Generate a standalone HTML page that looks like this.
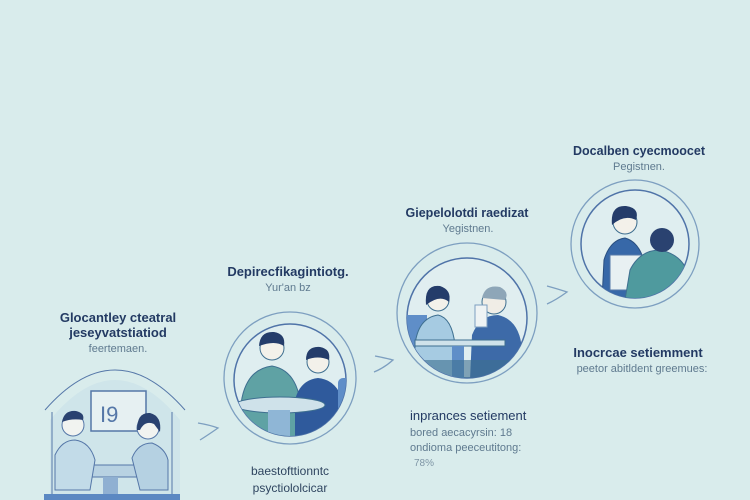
<!DOCTYPE html>
<html><head><meta charset="utf-8"><style>
html,body{margin:0;padding:0;background:#d9ecec;}
svg{display:block;font-family:"Liberation Sans",sans-serif;}
</style></head><body>
<svg width="750" height="500" viewBox="0 0 750 500" xmlns="http://www.w3.org/2000/svg">
<rect width="750" height="500" fill="#d9ecec"/>
<!-- Texts -->
<g text-anchor="middle">
<text x="118" y="322" font-size="13" font-weight="bold" fill="#233a63">Glocantley cteatral</text>
<text x="118" y="337" font-size="13" font-weight="bold" fill="#233a63">jeseyvatstiatiod</text>
<text x="118" y="352" font-size="11" fill="#5f7a8f">feertemaen.</text>
<text x="288" y="276" font-size="13" font-weight="bold" fill="#233a63">Depirecfikagintiotg.</text>
<text x="288" y="291" font-size="11" fill="#5f7a8f">Yur'an bz</text>
<text x="290" y="475" font-size="12" fill="#2f4560">baestofttionntc</text>
<text x="290" y="492" font-size="12" fill="#2f4560">psyctiololcicar</text>
<text x="467" y="217" font-size="12.5" font-weight="bold" fill="#233a63">Giepelolotdi raedizat</text>
<text x="468" y="232" font-size="11" fill="#5f7a8f">Yegistnen.</text>
<text x="639" y="155" font-size="12.5" font-weight="bold" fill="#233a63">Docalben cyecmoocet</text>
<text x="639" y="170" font-size="11" fill="#5f7a8f">Pegistnen.</text>
<text x="638" y="357" font-size="13" font-weight="bold" fill="#233a63">Inocrcae setiemment</text>
<text x="642" y="372" font-size="11" fill="#5f7a8f">peetor abitldent greemues:</text>
</g>
<g text-anchor="start">
<text x="410" y="420" font-size="13" fill="#233a63">inprances setiement</text>
<text x="410" y="436" font-size="11" fill="#5f7a8f">bored aecacyrsin: 18</text>
<text x="410" y="451" font-size="11" fill="#5f7a8f">ondioma peeceutitong:</text>
<text x="414" y="466" font-size="10" fill="#7f96a6">78%</text>
</g>
<!-- connectors -->
<g fill="none" stroke="#7d9fc0" stroke-width="1.3">
<path d="M198 423 Q210 425 218 428 Q208 435 200 440"/>
<path d="M375 356 Q386 358 393 360 Q384 368 374 372"/>
<path d="M547 286 Q558 289 567 292 Q556 300 547 304"/>
</g>
<!-- Panel 1 -->
<g>
<path d="M50 500 L50 420 Q115 340 180 420 L180 500" fill="#cfe5ea" stroke="none"/>
<path d="M45 410 Q115 330 185 410" fill="none" stroke="#5577a8" stroke-width="1"/>
<line x1="52" y1="412" x2="52" y2="500" stroke="#5577a8"/>
<line x1="172" y1="412" x2="172" y2="500" stroke="#5577a8"/>
<rect x="91" y="391" width="55" height="40" fill="#e6f0f2" stroke="#5577a8" stroke-width="1.5"/>
<text x="100" y="422" font-size="22" fill="#5577a8">I9</text>
<rect x="78" y="465" width="70" height="12" fill="#b8d2e2" stroke="#5577a8"/>
<rect x="103" y="477" width="15" height="18" fill="#8fb0d2"/>
<path d="M55 490 L55 455 Q62 440 75 440 Q90 442 95 460 L90 490 Z" fill="#c2dbe8" stroke="#5577a8"/>
<circle cx="73" cy="425" r="11" fill="#f1f3f0" stroke="#5577a8"/>
<path d="M62 422 Q64 410 76 411 Q85 413 83 420 Q72 418 62 422Z" fill="#2a4270"/>
<path d="M140 490 L132 458 Q138 443 152 443 Q165 448 168 460 L168 490 Z" fill="#b5d1e2" stroke="#5577a8"/>
<circle cx="148" cy="428" r="11" fill="#f1f3f0" stroke="#5577a8"/>
<path d="M137 430 Q137 412 150 413 Q162 416 160 432 L154 424 Q145 420 140 430Z" fill="#2a4270"/>
<rect x="44" y="494" width="136" height="6" fill="#5b88c2"/>
</g>
<!-- Circle 2 -->
<g>
<circle cx="290" cy="378" r="66" fill="none" stroke="#7d9fc0" stroke-width="1.3"/>
<clipPath id="c2"><circle cx="290" cy="380" r="56"/></clipPath>
<circle cx="290" cy="380" r="56" fill="#dfeef0" stroke="#4f73a8" stroke-width="1.5"/>
<g clip-path="url(#c2)">
<path d="M240 420 Q240 370 272 366 Q295 370 300 400 L300 440 L240 440Z" fill="#5fa2a4" stroke="#3e6f90"/>
<circle cx="272" cy="348" r="12" fill="#f3f1ea" stroke="#3e6f90"/>
<path d="M259 346 Q260 331 274 332 Q286 334 284 346 Q275 340 259 346Z" fill="#243c6a"/>
<path d="M295 440 L295 400 Q300 380 318 378 Q340 380 345 410 L345 440Z" fill="#2f5a9c"/>
<circle cx="318" cy="362" r="11" fill="#f3f1ea" stroke="#3e6f90"/>
<path d="M306 360 Q306 346 320 347 Q331 349 329 360 Q318 355 306 360Z" fill="#243c6a"/>
<ellipse cx="280" cy="405" rx="45" ry="8" fill="#cfe2ea" stroke="#3e6f90"/>
<rect x="268" y="410" width="22" height="30" fill="#8fb6d6"/>
<rect x="338" y="378" width="12" height="50" rx="5" fill="#5f8ec8"/>
</g>
</g>
<!-- Circle 3 -->
<g>
<circle cx="467" cy="313" r="70" fill="none" stroke="#7d9fc0" stroke-width="1.3"/>
<clipPath id="c3"><circle cx="467" cy="318" r="60"/></clipPath>
<circle cx="467" cy="318" r="60" fill="#e0eef0" stroke="#4f73a8" stroke-width="1.5"/>
<g clip-path="url(#c3)">
<rect x="405" y="315" width="22" height="40" fill="#5f8ec8"/>
<path d="M415 345 Q418 318 438 315 Q452 318 455 345 L455 380 L415 380Z" fill="#a6cbe2" stroke="#3e6f90"/>
<circle cx="438" cy="300" r="11" fill="#f3f1ea" stroke="#3e6f90"/>
<path d="M426 305 Q424 284 440 286 Q452 290 449 302 Q440 294 426 305Z" fill="#243c6a"/>
<path d="M470 380 L472 335 Q480 315 498 315 Q520 320 522 350 L522 380Z" fill="#3d6aa8"/>
<circle cx="494" cy="302" r="12" fill="#f0ede6" stroke="#3e6f90"/>
<path d="M482 298 Q485 284 500 287 Q510 292 505 300Z" fill="#8ea6b8"/>
<rect x="475" y="305" width="12" height="22" fill="#eef3f4" stroke="#7d9fc0"/>
<rect x="415" y="340" width="90" height="6" fill="#cfe2ea" stroke="#3e6f90"/>
<rect x="452" y="346" width="12" height="40" fill="#5f8ec8"/>
<rect x="408" y="360" width="120" height="20" fill="#3e6f90" opacity="0.6"/>
</g>
</g>
<!-- Circle 4 -->
<g>
<circle cx="635" cy="244" r="64" fill="none" stroke="#7d9fc0" stroke-width="1.3"/>
<clipPath id="c4"><circle cx="635" cy="244" r="54"/></clipPath>
<circle cx="635" cy="244" r="54" fill="#dfeef0" stroke="#4f73a8" stroke-width="1.5"/>
<g clip-path="url(#c4)">
<path d="M602 300 L604 260 Q610 240 625 238 Q640 242 645 265 L640 300Z" fill="#3768a8" stroke="#2a4f80"/>
<circle cx="625" cy="222" r="12" fill="#f3f1ea" stroke="#3e6f90"/>
<path d="M612 225 Q610 205 626 206 Q640 208 636 220 Q624 214 612 225 L610 240Z" fill="#243c6a"/>
<rect x="610" y="255" width="35" height="35" fill="#e8f0f2" stroke="#5577a8"/>
<path d="M625 300 L630 270 Q640 250 660 250 Q685 255 690 280 L690 300Z" fill="#4f9a9e" stroke="#3e6f90"/>
<circle cx="662" cy="240" r="12" fill="#2a4270"/>
</g>
</g>
</svg>
</body></html>
